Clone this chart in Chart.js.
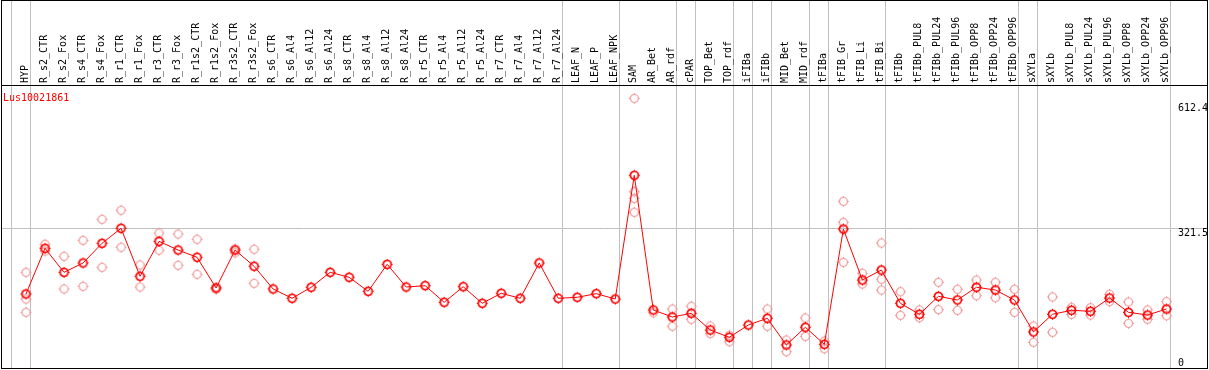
<!DOCTYPE html>
<html>
<head>
<meta charset="utf-8">
<script src="https://cdn.jsdelivr.net/npm/chart.js@4.4.1/dist/chart.umd.min.js"></script>
<style>
  html, body { margin: 0; padding: 0; background: #fff; }
</style>
</head>
<body>
<canvas id="chart" width="1209" height="370"></canvas>
<script>
const geneName = "Lus10021861";

const samples = [
  "HYP", "R_s2_CTR", "R_s2_Fox", "R_s4_CTR", "R_s4_Fox", "R_r1_CTR", "R_r1_Fox",
  "R_r3_CTR", "R_r3_Fox", "R_r1s2_CTR", "R_r1s2_Fox", "R_r3s2_CTR", "R_r3s2_Fox",
  "R_s6_CTR", "R_s6_Al4", "R_s6_Al12", "R_s6_Al24", "R_s8_CTR", "R_s8_Al4",
  "R_s8_Al12", "R_s8_Al24", "R_r5_CTR", "R_r5_Al4", "R_r5_Al12", "R_r5_Al24",
  "R_r7_CTR", "R_r7_Al4", "R_r7_Al12", "R_r7_Al24", "LEAF_N", "LEAF_P", "LEAF_NPK",
  "SAM", "AR_Bet", "AR_rdf", "cPAR", "TOP_Bet", "TOP_rdf", "iFIBa", "iFIBb",
  "MID_Bet", "MID_rdf", "tFIBa", "tFIB_Gr", "tFIB_Li", "tFIB_Bi", "tFIBb",
  "tFIBb_PUL8", "tFIBb_PUL24", "tFIBb_PUL96", "tFIBb_OPP8", "tFIBb_OPP24",
  "tFIBb_OPP96", "sXYLa", "sXYLb", "sXYLb_PUL8", "sXYLb_PUL24", "sXYLb_PUL96",
  "sXYLb_OPP8", "sXYLb_OPP24", "sXYLb_OPP96",
];

// moyenne par échantillon
const meanValues = [
  174.5, 276.7, 223.0, 243.9, 287.9, 321.5, 214.1, 292.4, 272.9, 256.6,
  187.9, 272.9, 236.5, 185.7, 164.9, 189.5, 223.0, 211.9, 180.5, 240.9,
  190.1, 193.1, 155.9, 190.8, 153.7, 176.1, 164.9, 243.9, 164.9, 167.1,
  175.2, 163.3, 440.1, 138.7, 123.0, 131.3, 93.9, 77.6, 105.1, 120.1,
  60.4, 100.0, 61.9, 319.9, 205.8, 228.2, 153.7, 129.1, 169.3, 161.1,
  189.5, 183.4, 161.1, 89.5, 129.1, 138.0, 135.8, 165.5, 133.5, 127.5,
  140.9,
];

// réplicats visibles (cercles clairs)
const replicateValues = [
  [223.0, 163.3, 133.5], [285.7, 270.7], [258.8, 185.7], [294.6, 191.7],
  [341.6, 234.2], [361.8, 279.0], [239.4, 190.1], [311.0, 272.3],
  [308.7, 238.7], [296.9, 218.6], [189.5, 185.0], [275.2, 266.9],
  [274.5, 198.4], [], [], [], [], [], [], [], [], [], [], [], [], [], [], [], [],
  [], [], [],
  [612.4, 403.4, 388.6, 357.3], [132.6], [140.9, 102.2], [147.0, 117.9],
  [102.9, 85.7], [82.1, 67.7], [], [140.9, 102.2], [71.5, 45.4], [120.8, 79.8],
  [69.3, 52.1], [381.9, 334.9, 245.4], [220.8, 196.9], [288.6, 207.4, 183.4],
  [179.6, 126.8], [138.7, 121.4], [200.7, 139.4], [185.0, 138.0],
  [205.8, 170.7], [200.7, 166.2], [185.0, 133.5], [102.9, 66.4],
  [167.8, 88.8], [144.7, 129.1], [143.8, 127.5], [173.8, 157.3],
  [156.6, 108.9], [138.7, 117.9], [157.3, 125.9],
];

// séparateurs de groupes : après l'échantillon d'indice k
const groupEnds = [-1, 0, 28, 31, 34, 35, 37, 38, 39, 41, 42, 45, 52, 53, 60];

const yTickValues = [612.4, 321.5, 0];
const yGridValues = [321.5];

const FONT = "DejaVu Sans Mono";
const X_MIN = -1.2625;
const X_MAX = 62.13;
const SEP_OFFSET = 0.22;

function ringMarker(color, width) {
  const c = document.createElement("canvas");
  c.width = 13;
  c.height = 13;
  const g = c.getContext("2d");
  g.strokeStyle = color;
  g.lineWidth = width;
  g.beginPath();
  g.arc(6.5, 6.5, 4, 0, Math.PI * 2);
  g.stroke();
  g.lineWidth = 1;
  g.beginPath();
  g.moveTo(6.5, 1); g.lineTo(6.5, 2.5);
  g.moveTo(6.5, 10.5); g.lineTo(6.5, 12);
  g.moveTo(1, 6.5); g.lineTo(2.5, 6.5);
  g.moveTo(10.5, 6.5); g.lineTo(12, 6.5);
  g.stroke();
  return c;
}

const meanPoints = meanValues.map((v, i) => ({ x: i, y: v }));
const replicatePoints = replicateValues.flatMap((list, i) =>
  list.map((v) => ({ x: i, y: v })),
);

const frameAndText = {
  id: "frameAndText",
  afterDraw(chart) {
    const { ctx, chartArea, scales } = chart;
    ctx.save();
    ctx.strokeStyle = "#000";
    ctx.lineWidth = 1;
    ctx.strokeRect(1.5, 0.5, chartArea.right - 1, chartArea.bottom);

    ctx.font = `10px "${FONT}"`;
    ctx.fillStyle = "#ff0000";
    ctx.textAlign = "left";
    ctx.textBaseline = "middle";
    ctx.fillText(geneName, 3, 98);

    ctx.fillStyle = "#000";
    ctx.textBaseline = "top";
    for (const v of yTickValues) {
      const py = Math.min(
        Math.max(scales.y.getPixelForValue(v), chartArea.top + 18),
        chartArea.bottom - 10,
      );
      ctx.fillText(v.toString(), chartArea.right - 29, py);
    }
    ctx.restore();
  },
};

new Chart(document.querySelector("#chart"), {
  type: "line",
  data: {
    datasets: [
      {
        data: meanPoints,
        borderColor: "#ff0000",
        borderWidth: 1,
        tension: 0,
        pointStyle: ringMarker("#ff0000", 1.7),
        pointRadius: 6,
        order: 0,
      },
      {
        data: replicatePoints,
        showLine: false,
        pointStyle: ringMarker("#f09898", 1.2),
        pointRadius: 6,
        order: 1,
      },
    ],
  },
  options: {
    responsive: false,
    animation: false,
    devicePixelRatio: 1,
    layout: {
      autoPadding: false,
      padding: { left: 2, right: 2, top: 0, bottom: 2 },
    },
    plugins: { legend: { display: false }, tooltip: { enabled: false } },
    scales: {
      x: { type: "linear", min: X_MIN, max: X_MAX, display: false },
      xTop: {
        type: "linear",
        position: "top",
        min: X_MIN,
        max: X_MAX,
        afterBuildTicks: (scale) => {
          scale.ticks = [
            ...samples.map((_, i) => ({ value: i })),
            ...groupEnds.map((k) => ({ value: k + SEP_OFFSET })),
          ];
        },
        afterFit: (scale) => {
          scale.height = 85;
          scale.paddingLeft = 0;
          scale.paddingRight = 0;
        },
        ticks: {
          autoSkip: false,
          minRotation: 90,
          maxRotation: 90,
          padding: -83,
          labelOffset: 11,
          color: "#000",
          font: { family: FONT, size: 10 },
          callback: (value) =>
            Number.isInteger(value) ? samples[value] ?? "" : "",
        },
        grid: {
          drawTicks: true,
          tickLength: 85,
          color: (ctx) =>
            ctx.tick && !Number.isInteger(ctx.tick.value)
              ? "#c0c0c0"
              : "rgba(0,0,0,0)",
        },
        border: { display: true, color: "#000", width: 1 },
      },
      y: {
        type: "linear",
        min: 8.9,
        max: 642.2,
        afterBuildTicks: (scale) => {
          scale.ticks = yGridValues.map((v) => ({ value: v }));
        },
        afterFit: (scale) => {
          scale.width = 0;
          scale.paddingTop = 0;
          scale.paddingBottom = 0;
        },
        ticks: { display: false },
        grid: { color: "#c0c0c0", drawTicks: false },
        border: { display: false },
      },
    },
  },
  plugins: [frameAndText],
});
</script>
</body>
</html>
